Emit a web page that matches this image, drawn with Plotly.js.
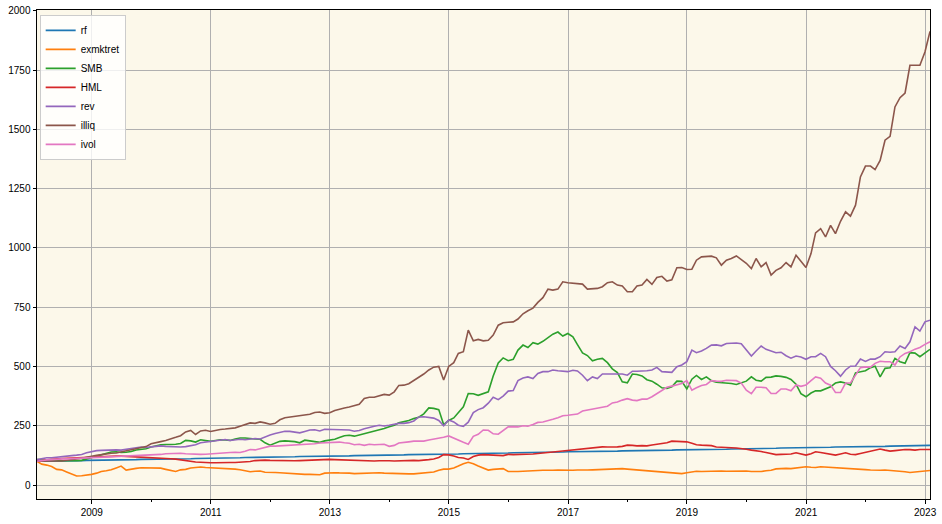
<!DOCTYPE html>
<html>
<head>
<meta charset="utf-8">
<script src="https://cdn.plot.ly/plotly-3.0.1.min.js"></script>
<style>
  html, body { margin: 0; padding: 0; background: #ffffff; }
  #chart { width: 942px; height: 524px; }
</style>
</head>
<body>
<div id="chart"></div>
<script>
// Monthly observations, Jan 2008 .. Jan 2023 (month-end), 181 points
const startYear = 2008;
const nMonths = 181;

const seriesNames = ["rf", "exmktret", "SMB", "HML", "rev", "illiq", "ivol"];

const rf = [
  100,100,101,101,101,102,102,103,103,103,
  104,104,104,105,105,106,106,106,107,107,
  107,108,108,109,109,109,110,110,110,111,
  111,111,112,112,113,113,113,114,114,114,
  115,115,116,116,116,117,117,117,118,118,
  119,119,119,120,120,120,121,121,121,122,
  122,123,123,123,124,124,124,125,125,126,
  126,126,127,127,127,128,128,128,129,129,
  130,130,130,131,131,131,132,132,133,133,
  133,134,134,134,135,135,136,136,136,137,
  137,137,138,138,138,139,139,140,140,140,
  141,141,141,142,142,143,143,143,144,144,
  144,145,145,146,146,146,147,147,147,148,
  148,148,149,149,150,150,150,151,151,151,
  152,152,153,153,153,154,154,154,155,155,
  156,156,156,157,157,157,158,158,158,159,
  159,160,160,160,161,161,161,162,162,163,
  163,163,164,164,164,165,165,165,166,166,
  167];

const exmktret = [
  100,88,84,78,66,64,55,47,38,39,
  41,45,50,57,60,64,72,80,63,65,
  70,73,72,71,72,71,66,62,57,64,
  66,72,75,76,74,73,74,72,71,69,
  67,64,60,56,58,59,54,52,53,52,
  50,49,47,46,45,45,44,43,50,52,
  52,51,52,50,48,49,50,49,50,52,
  50,49,48,46,46,47,47,49,50,52,
  55,62,67,67,72,80,90,96,90,80,
  70,63,66,68,69,57,56,57,58,60,
  59,61,62,61,62,63,62,61,62,63,
  62,63,64,65,66,67,66,68,69,67,
  65,63,62,60,59,58,55,53,51,50,
  48,52,56,58,57,58,58,59,59,58,
  59,60,60,59,57,56,57,60,62,68,
  70,70,69,72,76,77,75,74,77,76,
  73,72,72,72,71,70,68,65,63,61,
  62,63,62,60,58,56,53,55,58,60,
  61];

const SMB = [
  107,107,106,105,104,103,102,101,102,104,
  110,116,122,130,135,139,140,137,138,141,
  148,150,153,160,166,170,171,171,172,175,
  188,186,181,191,188,184,188,191,190,188,
  194,198,198,195,194,193,178,168,175,184,
  186,186,183,178,189,186,184,180,186,190,
  193,200,208,210,206,211,216,222,226,230,
  238,246,252,262,266,272,280,286,300,325,
  323,318,255,272,283,305,330,386,385,378,
  384,393,460,515,536,524,530,569,590,580,
  600,594,606,622,636,645,628,639,625,592,
  557,546,524,530,534,516,490,474,435,431,
  468,466,460,444,438,425,410,407,414,438,
  437,405,446,462,445,456,440,433,432,432,
  428,424,430,438,456,442,438,454,455,460,
  458,454,445,425,385,372,388,397,397,405,
  414,430,435,430,421,473,478,482,495,501,
  456,492,494,534,520,513,558,556,541,555,
  572];

const HML = [
  100,104,106,108,111,112,113,114,116,117,
  118,120,121,121,122,122,122,122,121,121,
  120,118,117,116,115,114,113,111,109,106,
  102,98,97,96,94,94,94,95,94,95,
  95,96,97,99,103,105,105,104,103,102,
  101,101,102,103,104,106,108,109,109,108,
  107,106,106,105,104,103,103,102,101,102,
  103,102,101,102,103,104,104,103,104,107,
  110,116,128,127,122,116,114,108,120,126,
  128,128,127,125,124,129,128,128,129,130,
  131,133,136,138,139,141,143,147,150,152,
  153,155,157,160,161,160,159,161,163,168,
  167,165,166,165,169,171,174,178,185,183,
  183,182,176,170,168,167,166,160,158,158,
  157,156,155,151,147,145,141,137,132,128,
  129,130,131,136,132,126,132,140,137,134,
  130,126,131,136,130,128,133,138,141,146,
  152,147,143,145,148,150,149,147,150,149,
  150];

const rev = [
  107,112,115,115,118,119,122,124,126,129,
  136,141,145,146,147,149,148,147,151,156,
  157,160,158,161,164,165,163,162,160,160,
  162,166,170,178,181,183,186,192,192,188,
  190,193,191,193,196,194,203,211,217,223,
  227,226,223,220,226,232,233,228,235,234,
  232,231,231,232,227,230,237,244,248,252,
  249,252,256,260,260,263,270,287,288,286,
  282,272,250,274,266,252,247,265,305,318,
  326,345,370,360,375,396,398,440,451,456,
  449,470,478,478,485,482,481,478,484,481,
  463,440,456,449,468,468,468,467,468,463,
  480,480,480,482,485,496,478,478,475,499,
  506,520,569,558,565,576,590,591,587,597,
  598,599,596,570,544,565,586,572,565,558,
  560,545,535,544,540,530,541,541,555,541,
  500,482,459,485,501,502,531,521,531,531,
  541,562,560,562,586,576,604,667,649,688,
  695];

const illiq = [
  100,101,101,102,101,101,103,105,110,113,
  118,121,125,128,132,134,135,139,143,149,
  153,157,162,174,180,183,188,196,201,208,
  224,230,213,228,231,226,231,234,236,238,
  241,248,256,262,260,266,262,256,260,275,
  284,287,287,292,296,298,306,308,302,305,
  314,320,325,329,335,340,365,370,370,375,
  382,379,393,420,421,427,440,455,468,485,
  497,500,443,500,516,555,562,653,608,614,
  608,610,632,674,684,686,688,700,722,735,
  746,770,790,826,822,826,857,853,852,851,
  847,826,827,829,836,853,857,843,839,815,
  815,839,843,867,846,875,880,860,865,916,
  917,909,910,948,962,964,965,958,927,948,
  955,966,950,935,913,955,920,938,885,905,
  916,938,920,969,944,917,976,1063,1081,1046,
  1095,1060,1112,1152,1134,1180,1299,1345,1345,1330,
  1369,1454,1470,1594,1633,1653,1770,1770,1770,1826,
  1913];

const ivol = [
  100,104,106,107,110,110,110,111,112,113,
  115,115,116,116,118,118,121,121,120,121,
  122,123,125,126,128,129,132,133,135,134,
  132,130,129,129,130,132,133,133,136,137,
  138,137,142,150,148,153,158,164,164,165,
  166,167,168,168,170,172,174,177,178,179,
  180,181,178,176,170,172,167,172,170,170,
  172,163,167,177,178,182,185,184,185,190,
  193,198,201,207,197,190,180,172,205,214,
  232,231,216,214,228,245,246,245,250,248,
  255,264,266,270,277,284,292,294,295,299,
  312,316,320,325,327,332,346,350,358,364,
  358,356,362,362,372,386,400,412,417,421,
  428,440,400,410,420,424,440,438,437,442,
  442,440,430,400,385,412,412,410,386,386,
  405,405,397,422,416,422,440,456,450,430,
  421,390,390,430,430,465,495,498,497,513,
  522,520,520,506,540,555,562,573,580,593,
  604];

const colors = ["#1f77b4", "#ff7f0e", "#2ca02c", "#d62728", "#9467bd", "#8c564b", "#e377c2"];

// month-end dates
const dates = [];
for (let k = 0; k < nMonths; k++) {
  const y = startYear + Math.floor(k / 12);
  const m = k % 12;
  const d = new Date(Date.UTC(y, m + 1, 0)).getUTCDate();
  dates.push(y + "-" + String(m + 1).padStart(2, "0") + "-" + String(d).padStart(2, "0"));
}

const allSeries = [rf, exmktret, SMB, HML, rev, illiq, ivol];
const traces = allSeries.map((vals, idx) => ({
  type: "scatter",
  mode: "lines",
  name: seriesNames[idx],
  x: dates,
  y: vals,
  line: { color: colors[idx], width: 1.6 },
  hoverinfo: "skip"
}));

const font = { family: "Liberation Sans, Arial, sans-serif", size: 10, color: "#000000" };

const layout = {
  width: 942,
  height: 524,
  margin: { l: 37, r: 12, t: 10, b: 25, pad: 0 },
  paper_bgcolor: "#ffffff",
  plot_bgcolor: "#fcf8ea",
  font: font,
  showlegend: true,
  legend: {
    x: 0.003, y: 0.99, xanchor: "left", yanchor: "top",
    bgcolor: "rgba(255,255,255,0.8)",
    bordercolor: "#cccccc", borderwidth: 1,
    font: { family: font.family, size: 10, color: "#000000" },
    itemwidth: 30,
    tracegroupgap: 0
  },
  xaxis: {
    type: "date",
    range: ["2008-01-31", "2023-01-31"],
    tick0: "2009-01-01",
    dtick: "M24",
    tickformat: "%Y",
    ticks: "outside",
    ticklen: 3.5,
    tickwidth: 1,
    tickcolor: "#000000",
    showgrid: true,
    gridcolor: "#b0b0b0",
    gridwidth: 1,
    showline: true,
    linecolor: "#000000",
    linewidth: 1,
    mirror: true,
    zeroline: false,
    tickfont: font,
    minor: {
      tick0: "2008-01-01",
      dtick: "M12",
      ticks: "outside",
      ticklen: 2,
      tickcolor: "#000000",
      showgrid: false
    }
  },
  yaxis: {
    range: [-59, 2003],
    tick0: 0,
    dtick: 250,
    ticks: "outside",
    ticklen: 3.5,
    tickwidth: 1,
    tickcolor: "#000000",
    showgrid: true,
    gridcolor: "#b0b0b0",
    gridwidth: 1,
    showline: true,
    linecolor: "#000000",
    linewidth: 1,
    mirror: true,
    zeroline: false,
    tickfont: font
  }
};

Plotly.newPlot("chart", traces, layout, { displayModeBar: false, staticPlot: true });
</script>
</body>
</html>
